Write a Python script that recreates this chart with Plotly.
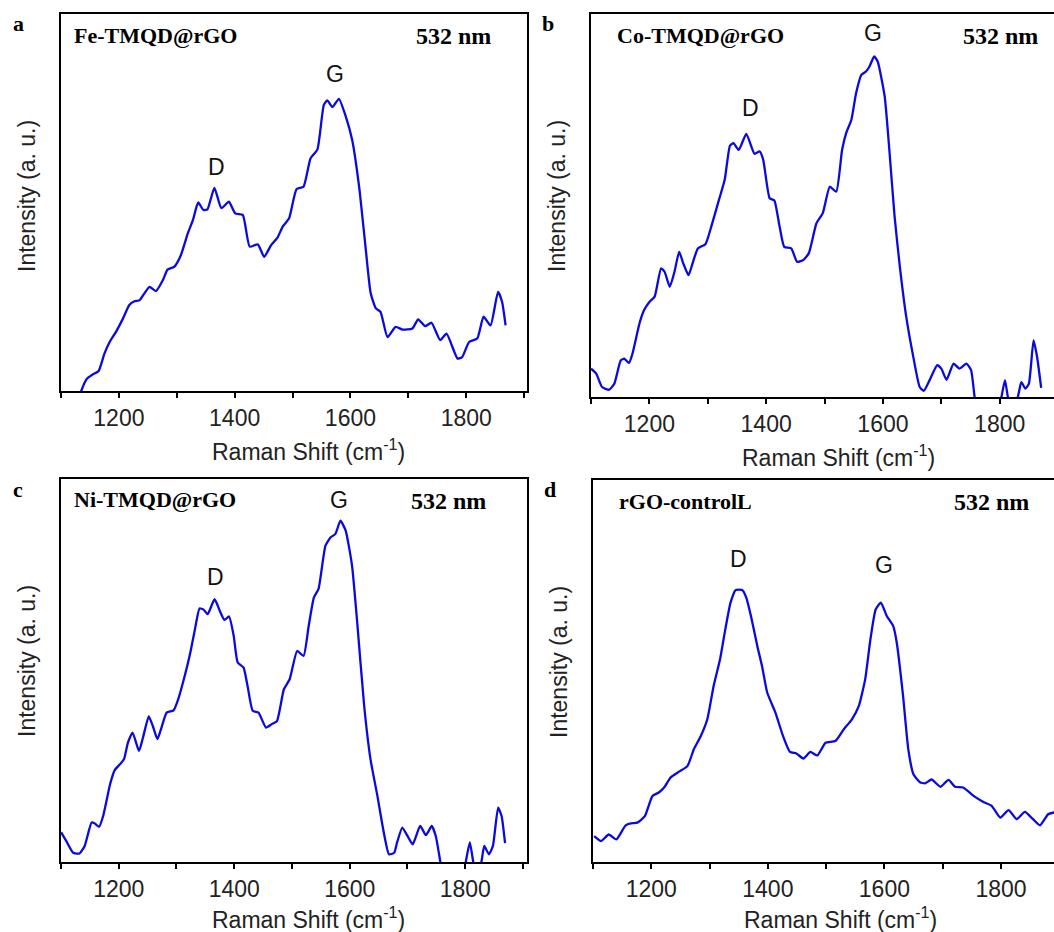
import plotly.graph_objects as go

# ---------------- data (arbitrary intensity units 0-100) ----------------
fe_shift = [1128, 1135, 1145, 1155, 1165, 1175, 1184, 1195, 1207, 1218, 1227, 1236, 1244, 1253, 1264, 1276,
            1284, 1296, 1307, 1319, 1328, 1337, 1346, 1353, 1365, 1377, 1390, 1401, 1414, 1426, 1440, 1451,
            1463, 1474, 1483, 1494, 1507, 1519, 1531, 1543, 1554, 1560, 1569, 1580, 1592, 1603, 1615, 1626,
            1635, 1644, 1652, 1664, 1678, 1690, 1707, 1717, 1729, 1740, 1755, 1766, 1785, 1793, 1805, 1819,
            1830, 1842, 1855, 1862, 1868]
fe_int = [-4, 0, 3.3, 4.4, 5.3, 9.9, 13, 15.7, 19.2, 22.8, 23.8, 24.1, 25.9, 27.6, 26.5, 29.4,
          32.2, 33, 36, 41.8, 45.4, 50, 48, 48.2, 53.9, 48.5, 50.2, 47.1, 46.7, 38.3, 38.9, 35.6,
          38.7, 40.7, 43.6, 45.8, 53.6, 54.2, 61.7, 64.1, 75.9, 77.1, 75.3, 77.5, 72.8, 66.6, 54.2, 38.3,
          25.9, 21.9, 21, 14.3, 17, 16.3, 16.6, 19, 17.2, 18.1, 13.5, 15.2, 8.6, 9, 13, 13.9,
          19.7, 17.4, 26.3, 23.6, 17.4]

co_shift = [1100, 1109, 1119, 1131, 1140, 1151, 1157, 1165, 1171, 1183, 1191, 1200, 1209, 1220, 1226, 1235,
            1243, 1251, 1258, 1267, 1274, 1283, 1296, 1306, 1319, 1329, 1338, 1344, 1353, 1366, 1380, 1389,
            1395, 1406, 1414, 1423, 1431, 1443, 1453, 1463, 1473, 1486, 1497, 1509, 1520, 1530, 1537, 1546,
            1554, 1563, 1571, 1577, 1585, 1591, 1603, 1611, 1620, 1629, 1640, 1651, 1663, 1670, 1680, 1693,
            1700, 1709, 1721, 1731, 1743, 1751, 1757, 1762, 1780, 1798, 1803, 1809, 1814, 1820, 1831, 1837,
            1844, 1850, 1858, 1864, 1871]
co_int = [7.4, 6.1, 2.6, 1.9, 3.5, 9.6, 10, 8.9, 11.3, 19.2, 22.7, 24.8, 26.2, 33.6, 32.7, 28.8,
          32.7, 37.9, 34.9, 31.8, 34.9, 38.8, 39.9, 44.5, 51.4, 56.7, 65.6, 66.3, 64.5, 68.7, 63.5, 64.1,
          61.9, 51.9, 51.3, 44.5, 39.2, 38.8, 35.3, 35.7, 37.5, 45.3, 48, 54.9, 53.6, 64.5, 68.9, 72.4,
          79.3, 84.1, 85, 86.3, 88.9, 87.6, 78.5, 64.5, 47.1, 34, 20.9, 11.3, 2.6, 1.6, 4.4, 8.3,
          7.4, 4.5, 8.7, 7.4, 8.7, 7, 0, -4, -6, -4, 0, 4.4, 0, -3, 0, 3.9,
          2.2, 3.5, 14.8, 10.5, 2.4]

ni_shift = [1100, 1109, 1121, 1132, 1141, 1153, 1158, 1166, 1173, 1185, 1193, 1202, 1209, 1216, 1224, 1235,
            1242, 1252, 1259, 1267, 1274, 1283, 1295, 1303, 1315, 1324, 1332, 1340, 1347, 1354, 1366, 1376,
            1383, 1391, 1399, 1406, 1416, 1423, 1432, 1442, 1455, 1465, 1474, 1486, 1496, 1509, 1520, 1529,
            1538, 1546, 1558, 1567, 1575, 1584, 1593, 1604, 1613, 1625, 1636, 1648, 1659, 1668, 1677, 1682,
            1691, 1700, 1709, 1722, 1732, 1742, 1749, 1757, 1762, 1780, 1797, 1801, 1808, 1814, 1820, 1828,
            1833, 1841, 1848, 1857, 1863, 1869]
ni_int = [7.8, 5.5, 2.4, 2.2, 4.2, 10.3, 10.1, 9.2, 12, 20.3, 24, 25.5, 26.8, 31.2, 33.8, 29,
          32.5, 38, 35.5, 32.1, 35.1, 39, 39.6, 42.5, 49, 54.7, 60.8, 66.2, 65.9, 64.7, 68.6, 65.2,
          63.2, 64.1, 59.1, 52.1, 50.8, 46, 39.5, 39, 35.1, 36, 36.8, 45.1, 47.7, 55.1, 53.8, 61.7,
          69.1, 71.3, 82.6, 84.8, 85.6, 89.1, 86.5, 77.4, 62.5, 40.8, 26.8, 17.2, 7.7, 2, 2.4, 5.1,
          9, 6.8, 4.6, 9.4, 7, 9.4, 6.8, 0, -4, -6, -4, 0, 5.1, 0, -3, 0,
          4.2, 2, 4.2, 14.2, 12, 4.9]

rgo_shift = [1102, 1114, 1127, 1140, 1156, 1165, 1176, 1189, 1202, 1213, 1222, 1233, 1247, 1262, 1273, 1285,
             1296, 1307, 1318, 1327, 1336, 1345, 1356, 1363, 1371, 1382, 1390, 1399, 1413, 1426, 1438, 1449,
             1461, 1473, 1485, 1499, 1516, 1530, 1544, 1556, 1567, 1576, 1585, 1594, 1604, 1615, 1621, 1632,
             1641, 1650, 1661, 1670, 1681, 1696, 1710, 1721, 1735, 1753, 1770, 1784, 1799, 1813, 1827, 1841,
             1855, 1867, 1881, 1892]
rgo_int = [6.8, 5.5, 7.2, 5.9, 9.6, 10.1, 10.3, 12, 17.3, 18.2, 19.5, 22.1, 23.6, 25.1, 29.5, 33,
           37.3, 46.1, 53.1, 60.9, 67.9, 71.2, 71.2, 69.2, 64.4, 56.5, 51.3, 44.3, 39.1, 33, 28.8, 28.4,
           27.1, 28.8, 27.9, 31.2, 31.7, 34.7, 37.3, 40.8, 47.8, 58.3, 66.1, 67.9, 64.4, 61.8, 57.6, 43.5,
           29.5, 22.9, 20.9, 20.6, 21.6, 19.7, 21.5, 19.7, 19.5, 17.3, 15.7, 14.7, 11.6, 13.6, 11.2, 13.1,
           11.2, 9.6, 12.5, 13]

sample_names = ["Fe-TMQD@rGO", "Co-TMQD@rGO", "Ni-TMQD@rGO", "rGO-controlL"]
panel_letters = ["a", "b", "c", "d"]
laser_label = "532 nm"
peak_names = ["D", "G"]
# peak label anchor positions (shift, intensity) per panel
d_label_pos = [(1368, 59.5), (1373, 75.4), (1367, 74.3), (1350, 79.4)]
g_label_pos = [(1574, 84.1), (1583, 95.0), (1581, 94.5), (1600, 77.7)]
x_ranges = [(1100, 1905), (1100, 1893), (1100, 1907), (1100, 1891)]
x_title = "Raman Shift (cm<sup>-1</sup>)"
y_title = "Intensity (a. u.)"

series = [(fe_shift, fe_int), (co_shift, co_int), (ni_shift, ni_int), (rgo_shift, rgo_int)]

# ---------------- layout geometry (pixels) ----------------
W, H = 1054, 932
# (left, right, top, bottom) of each plot area in pixels
boxes = [(61, 527, 14, 391), (591, 1054, 14, 397), (61, 527, 479, 862), (593, 1054, 480, 862)]
x_title_gap = [59, 59, 56, 56]

def px(xp):
    return xp / W

def py(yp):
    return 1 - yp / H

SANS = "Liberation Sans, Arial, sans-serif"
SERIF = "Liberation Serif, Times New Roman, serif"
LINE = "#0a0ae0"

fig = go.Figure()
annotations = []
layout_axes = {}

for i, ((xs, ys), box) in enumerate(zip(series, boxes)):
    n = "" if i == 0 else str(i + 1)
    l, r, t, b = box
    fig.add_trace(go.Scatter(x=xs, y=ys, mode="lines",
                             line=dict(color=LINE, width=2.3, shape="spline", smoothing=0.5),
                             xaxis="x" + n, yaxis="y" + n, showlegend=False, hoverinfo="skip"))
    right_closed = (i % 2 == 0)
    layout_axes["xaxis" + n] = dict(
        domain=[px(l), px(r)], anchor="y" + n, range=list(x_ranges[i]),
        showline=True, linecolor="black", linewidth=2, mirror=True,
        ticks="outside", ticklen=5, tickwidth=2, tickcolor="black",
        tick0=1200, dtick=200, showgrid=False, zeroline=False,
        tickfont=dict(family=SANS, size=23, color="#222"),
        minor=dict(dtick=100, tick0=1100, ticks="outside", ticklen=5, tickwidth=2, tickcolor="black", showgrid=False),
    )
    layout_axes["yaxis" + n] = dict(
        domain=[py(b), py(t)], anchor="x" + n, range=[0, 100],
        showline=True, linecolor="black", linewidth=2, mirror=right_closed,
        ticks="", showticklabels=False, showgrid=False, zeroline=False,
    )
    # axis titles
    annotations.append(dict(text=x_title, xref="paper", yref="paper",
                            x=px((l + (l + 466)) / 2 + 14), y=py(b + x_title_gap[i]),
                            showarrow=False, xanchor="center", yanchor="middle",
                            font=dict(family=SANS, size=23, color="#222")))
    annotations.append(dict(text=y_title, xref="paper", yref="paper",
                            x=px(l - 34), y=py(t + 182), textangle=-90,
                            showarrow=False, xanchor="center", yanchor="middle",
                            font=dict(family=SANS, size=23, color="#222")))
    # panel letter
    annotations.append(dict(text="<b>%s</b>" % panel_letters[i], xref="paper", yref="paper",
                            x=px(l - 43), y=py(t + 10), showarrow=False, xanchor="center", yanchor="middle",
                            font=dict(family=SERIF, size=22, color="black")))
    # sample name
    annotations.append(dict(text="<b>%s</b>" % sample_names[i], xref="paper", yref="paper",
                            x=px(l + 11 if i % 2 == 0 else l + 24), y=py(t + 21),
                            showarrow=False, xanchor="left", yanchor="middle",
                            font=dict(family=SERIF, size=22, color="black")))
    # laser
    rx = [493, 1040, 488, 1031][i]
    annotations.append(dict(text="<b>%s</b>" % laser_label, xref="paper", yref="paper",
                            x=px(rx), y=py(t + 22), showarrow=False, xanchor="right", yanchor="middle",
                            font=dict(family=SERIF, size=24, color="black")))
    # peak labels
    for name, pos in zip(peak_names, (d_label_pos[i], g_label_pos[i])):
        annotations.append(dict(text=name, xref="x" + n, yref="y" + n, x=pos[0], y=pos[1],
                                showarrow=False, xanchor="center", yanchor="middle",
                                font=dict(family=SANS, size=23, color="#111")))

fig.update_layout(width=W, height=H, margin=dict(l=0, r=0, t=0, b=0),
                  paper_bgcolor="white", plot_bgcolor="white",
                  annotations=annotations, **layout_axes)

fig.write_html("out.html", config={"displayModeBar": False},
               post_script="document.body.style.margin='0';document.body.style.overflow='hidden';")
